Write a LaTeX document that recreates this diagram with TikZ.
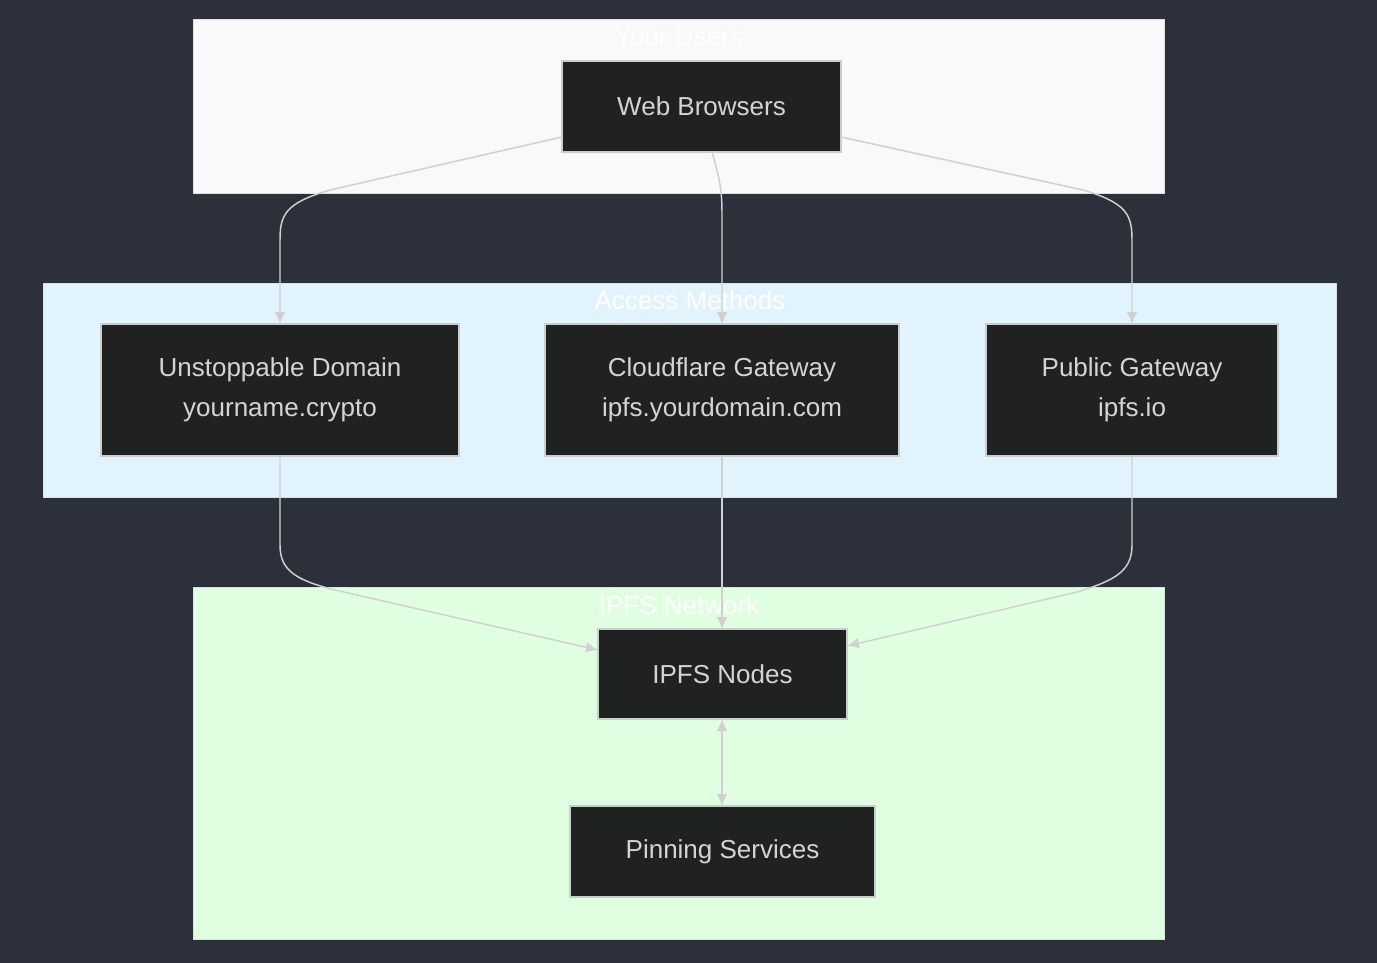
\documentclass[tikz,border=0pt]{standalone}
\usepackage{fontspec}
\setmainfont{Liberation Sans}
\usetikzlibrary{arrows.meta}
\definecolor{bg}{HTML}{2B303B}
\definecolor{nodefill}{HTML}{202222}
\definecolor{nodeline}{HTML}{CCCCCC}
\definecolor{txt}{HTML}{D4D4D4}
\definecolor{edge}{HTML}{D0D0D0}
\definecolor{cA}{HTML}{F9F9F9}
\definecolor{cB}{HTML}{E1F4FE}
\definecolor{cC}{HTML}{E0FFE0}
\begin{document}
\begin{tikzpicture}[x=0.75pt,y=-0.75pt,
  box/.style={draw=nodeline,fill=nodefill,line width=0.8pt},
  lbl/.style={text=txt,font=\fontsize{19.5}{30}\selectfont,align=center},
  ttl/.style={text=white,font=\fontsize{19.5}{24}\selectfont},
  cl/.style={draw=nodeline!60,line width=0.6pt},
  conn/.style={draw=edge,line width=1.1pt,-{Latex[length=9pt,width=8pt]}},
  conn2/.style={draw=edge,line width=1.1pt,{Latex[length=9pt,width=8pt]}-{Latex[length=9pt,width=8pt]}}]
\fill[bg] (0,0) rectangle (1377,963);
\useasboundingbox (0,0) rectangle (1377,963);
\draw[cl,fill=cA] (193,19) rectangle (1164,193);
\draw[cl,fill=cB] (43,283) rectangle (1336,497);
\draw[cl,fill=cC] (193,587) rectangle (1164,939);
\node[ttl] (t1) at (679,37) {Your Users};
\node[ttl] (t2) at (690,300) {Access Methods};
\node[ttl] (t3) at (679,605) {IPFS Network};
\draw[box] (562,61) rectangle (841,152);
\node[lbl] (wb) at (701.5,106.5) {Web Browsers};
\draw[box] (101,324) rectangle (459,456);
\node[lbl] (ud) at (280,390) {Unstoppable Domain\\yourname.crypto};
\draw[box] (545,324) rectangle (899,456);
\node[lbl] (cf) at (722,390) {Cloudflare Gateway\\ipfs.yourdomain.com};
\draw[box] (986,324) rectangle (1278,456);
\node[lbl] (pg) at (1132,390) {Public Gateway\\ipfs.io};
\draw[box] (598,629) rectangle (847,719);
\node[lbl] (in) at (722.5,674) {IPFS Nodes};
\draw[box] (570,806) rectangle (875,897);
\node[lbl] (ps) at (722.5,851.5) {Pinning Services};
\coordinate (a1) at (562,137); \coordinate (a2) at (280,324);
\coordinate (b1) at (712,152); \coordinate (b2) at (722,324);
\coordinate (c1) at (841,137); \coordinate (c2) at (1132,324);
\coordinate (d1) at (280,456); \coordinate (d2) at (598,650);
\coordinate (e1) at (722,456); \coordinate (e2) at (722,629);
\coordinate (f1) at (1132,456); \coordinate (f2) at (847,646);
\coordinate (g1) at (722,719); \coordinate (g2) at (722,806);
\draw[conn] (a1) -- (330,190) .. controls (285,203) and (280,215) .. (280,240) -- (a2);
\draw[conn] (b1) .. controls (720,180) and (722,190) .. (722,215) -- (b2);
\draw[conn] (c1) -- (1083,190) .. controls (1127,203) and (1132,215) .. (1132,240) -- (c2);
\draw[conn] (d1) -- (280,545) .. controls (280,570) and (295,580) .. (335,590) -- (d2);
\draw[conn] (e1) -- (e2);
\draw[conn] (f1) -- (1132,545) .. controls (1132,570) and (1117,580) .. (1077,592) -- (f2);
\draw[conn2] (g1) -- (g2);
\end{tikzpicture}
\end{document}
